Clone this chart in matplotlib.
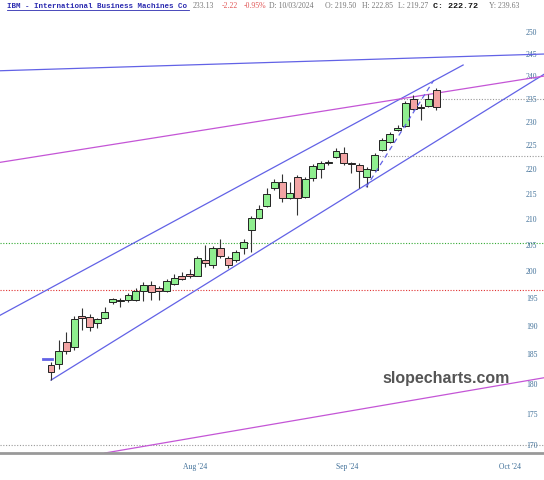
import matplotlib
matplotlib.use("Agg")
import matplotlib.pyplot as plt
import numpy as np
from matplotlib.ticker import FixedLocator, FixedFormatter, NullLocator
from matplotlib.lines import Line2D

# daily candles
opens = [183.2, 183.4, 187.2, 186.2, 191.8, 191.6, 190.5, 191.4, 194.2, 194.4,
         194.6, 194.7, 196.3, 197.4, 196.9, 196.3, 197.6, 199.1, 199.5, 199.1,
         202.1, 201.2, 204.3, 202.4, 202.1, 204.3, 207.8, 210.2, 212.6, 216.2,
         217.4, 214.1, 218.4, 214.3, 218.2, 220.0, 221.3, 222.5, 223.4, 221.3,
         220.9, 218.4, 219.8, 224.0, 225.6, 228.2, 229.0, 234.9, 233.1, 233.4,
         236.9]
highs = [183.7, 187.5, 189.0, 191.8, 193.2, 192.2, 191.4, 193.4, 195.0, 195.0,
         195.9, 196.9, 198.0, 198.2, 197.3, 198.5, 199.5, 199.8, 200.4, 202.9,
         204.9, 204.7, 206.1, 202.8, 204.0, 206.1, 210.6, 212.8, 216.2, 218.0,
         219.0, 217.4, 218.8, 218.4, 221.1, 221.7, 221.9, 224.4, 224.6, 221.5,
         221.3, 220.4, 223.4, 226.5, 227.7, 229.3, 234.4, 235.8, 233.8, 236.0,
         237.4]
lows = [180.6, 182.5, 185.0, 185.8, 189.3, 189.1, 189.6, 191.2, 194.0, 193.4,
        194.2, 194.4, 194.4, 194.7, 194.7, 196.1, 197.4, 198.3, 198.7, 199.0,
        200.7, 200.6, 202.4, 200.6, 201.7, 203.2, 203.6, 210.0, 212.4, 215.8,
        213.3, 213.9, 210.8, 214.1, 217.6, 218.2, 220.9, 222.3, 220.9, 219.3,
        216.2, 216.4, 219.6, 223.8, 225.4, 227.9, 228.9, 232.5, 230.3, 233.1,
        232.5]
closes = [182.0, 185.5, 185.5, 191.2, 191.4, 189.8, 191.2, 192.4, 194.8, 194.6,
          195.5, 196.3, 197.4, 196.1, 196.3, 198.2, 198.7, 198.5, 199.0, 202.4,
          201.5, 204.3, 202.8, 201.2, 203.6, 205.5, 210.2, 212.0, 215.0, 217.4,
          214.1, 215.2, 214.1, 218.0, 220.7, 221.3, 221.5, 223.8, 221.3, 221.1,
          219.6, 220.0, 222.9, 226.0, 227.3, 228.6, 234.0, 232.7, 232.9, 234.9,
          233.13]

# drawn trendlines: (bar index, price) end points
top_line = [(-6.6, 241.2), (64.0, 245.0)]
channel_upper = [(-6.6, 191.9), (53.5, 242.5)]
channel_lower = [(0.0, 180.6), (64.0, 240.4)]
fan_upper = [(-6.6, 221.4), (64.0, 240.0)]
fan_lower = [(7.0, 168.7), (64.0, 181.0)]
dashed_line = [(40.9, 216.3), (49.7, 239.1)]

# horizontal levels: (price, start index, colour)
levels = [(205.3, -6.6, "#33aa33"), (196.5, -6.6, "#e03030"),
          (170.0, -6.6, "#999999"), (235.0, 45.0, "#999999"),
          (222.72, 41.5, "#999999")]

ytick_vals = list(range(170, 251, 5))
xtick_pos = [18.7, 38.4, 59.6]
xtick_labels = ["Aug '24", "Sep '24", "Oct '24"]

fig = plt.figure(figsize=(5.44, 4.8), dpi=100)
ax = fig.add_axes([0, 27 / 480, 1, 453 / 480])
ax.set_yscale("log")
ax.set_xlim(-6.62, 64.0)
ax.set_ylim(168.7, 257.7)

x = np.arange(len(opens))
o = np.array(opens)
c = np.array(closes)
up = c >= o
ax.vlines(x, lows, highs, color="#333333", lw=0.8, zorder=3)
bottoms = np.minimum(o, c)
heights = np.maximum(np.abs(c - o), 0.15)
ax.bar(x, heights, bottom=bottoms, width=0.9,
       color=np.where(up, "#8fee8f", "#f2a4a4"), edgecolor="#222222",
       linewidth=0.7, zorder=4)

for p, x0, col in levels:
    ax.plot([x0, 64.0], [p, p], color=col, lw=0.8, ls=(0, (1, 1.5)), zorder=1)

blue = "#6262e6"
purple = "#c455d6"
for ln, col in [(top_line, blue), (channel_upper, blue), (channel_lower, blue),
                (fan_upper, purple), (fan_lower, purple)]:
    ax.plot([ln[0][0], ln[1][0]], [ln[0][1], ln[1][1]], color=col, lw=0.9, zorder=2)
ax.plot([dashed_line[0][0], dashed_line[1][0]], [dashed_line[0][1], dashed_line[1][1]],
        color=blue, lw=0.9, ls=(0, (4, 3)), zorder=5)
# small blue marker near the first candle
ax.plot([-1.0, 0.1], [184.2, 184.2], color=blue, lw=2, zorder=5)

for s in ["top", "left", "right"]:
    ax.spines[s].set_visible(False)
ax.spines["bottom"].set_color("#999999")
ax.spines["bottom"].set_linewidth(2)

lab_col = "#3f6f98"
ax.yaxis.tick_right()
ax.yaxis.set_major_locator(FixedLocator(ytick_vals))
ax.yaxis.set_major_formatter(FixedFormatter([str(v) for v in ytick_vals]))
ax.yaxis.set_minor_locator(NullLocator())
ax.tick_params(axis="y", length=0, pad=-13, labelsize=5.5, labelcolor=lab_col)
for t in ax.get_yticklabels():
    t.set_fontfamily("Liberation Serif")
ax.set_xticks(xtick_pos)
ax.set_xticklabels(xtick_labels, fontfamily="Liberation Serif")
ax.tick_params(axis="x", length=0, pad=7, labelsize=5.5, labelcolor=lab_col)

# header
def px(xp, yp):
    return xp / 544, 1 - yp / 480

fig.text(*px(7, 6), "IBM - International Business Machines Co", fontsize=5.4,
         fontfamily="Liberation Mono", fontweight="bold", color="#2b2bb0", va="center")
fig.add_artist(Line2D([7 / 544, 189 / 544], [1 - 10 / 480, 1 - 10 / 480],
                      color="#2b2bb0", lw=0.6))
hdr = [(193, "233.13", "#777777"), (222, "-2.22", "#e05555"), (244, "-0.95%", "#e05555"),
       (269, "D: 10/03/2024", "#777777"), (325, "O: 219.50", "#777777"),
       (362, "H: 222.85", "#777777"), (398, "L: 219.27", "#777777"),
       (489, "Y: 239.63", "#777777")]
for xp, s, col in hdr:
    fig.text(*px(xp, 6), s, fontsize=5.6, fontfamily="Liberation Serif", color=col, va="center")
fig.text(*px(433, 6), "C: 222.72", fontsize=6, fontfamily="Liberation Mono",
         fontweight="bold", color="#111111", va="center")

fig.text(*px(446, 378), "slopecharts.com", fontsize=11.5, fontfamily="Liberation Sans",
         fontweight="bold", color="#555555", ha="center", va="center")

fig.savefig("out.png", dpi=100)
